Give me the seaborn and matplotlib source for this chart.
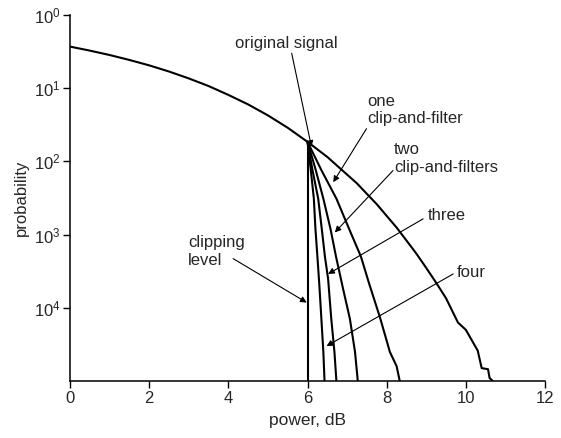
import matplotlib
matplotlib.use("Agg")
import matplotlib.pyplot as plt
import seaborn as sns
import pandas as pd

# power (dB) vs probability
orig_x = [0, 0.5, 1, 1.5, 2, 2.5, 3, 3.5, 4, 4.5, 5, 5.5, 6, 6.5, 7, 7.25, 7.5, 7.75, 8,
          8.25, 8.5, 8.75, 9, 9.25, 9.5, 9.8, 10.0, 10.3, 10.4, 10.56, 10.6, 10.68]
orig_p = [0.37, 0.326, 0.284, 0.243, 0.205, 0.169, 0.136, 0.107, 0.081, 0.06, 0.0425, 0.0288,
          0.0185, 0.0115, 0.0066, 0.0050, 0.0036, 0.0026, 0.0018, 0.00125, 8.3e-4, 5.5e-4,
          3.5e-4, 2.2e-4, 1.35e-4, 6.3e-5, 5.0e-5, 2.6e-5, 1.5e-5, 1.45e-5, 1.1e-5, 1.0e-5]

one_x = [6.0, 6.35, 6.73, 7.05, 7.35, 7.55, 7.83, 8.01, 8.08, 8.25, 8.33]
one_p = [1.85e-2, 7.6e-3, 3.1e-3, 1.2e-3, 5.0e-4, 2.2e-4, 7.4e-5, 3.4e-5, 2.5e-5, 1.6e-5, 1.0e-5]

two_x = [6.0, 6.2, 6.40, 6.58, 6.72, 6.9, 7.07, 7.2, 7.27]
two_p = [1.85e-2, 7.9e-3, 3.1e-3, 1.2e-3, 5.0e-4, 1.8e-4, 7.1e-5, 2.5e-5, 1.0e-5]

three_x = [6.0, 6.12, 6.27, 6.36, 6.44, 6.52, 6.6, 6.68, 6.73]
three_p = [1.85e-2, 7.9e-3, 3.1e-3, 1.2e-3, 5.0e-4, 2.5e-4, 7.1e-5, 2.5e-5, 1.0e-5]

four_x = [6.0, 6.08, 6.16, 6.2, 6.25, 6.3, 6.35, 6.4, 6.43]
four_p = [1.85e-2, 7.9e-3, 3.1e-3, 1.2e-3, 5.0e-4, 2.0e-4, 7.1e-5, 2.5e-5, 1.0e-5]

clip_x = [6.0, 6.0]
clip_p = [1.85e-2, 1.0e-5]

x_ticks = [0, 2, 4, 6, 8, 10, 12]
y_ticks = [1, 1e-1, 1e-2, 1e-3, 1e-4]
y_tick_labels = [r"$\mathregular{10^{0}}$", r"$\mathregular{10^{1}}$", r"$\mathregular{10^{2}}$",
                 r"$\mathregular{10^{3}}$", r"$\mathregular{10^{4}}$"]

sns.set_style("ticks")
plt.rcParams["font.family"] = ["Liberation Sans", "DejaVu Sans"]
plt.rcParams["mathtext.fontset"] = "custom"
plt.rcParams["mathtext.rm"] = "Liberation Sans"
plt.rcParams["mathtext.it"] = "Liberation Sans:italic"

fig = plt.figure(figsize=(5.61, 4.38), dpi=100)
ax = fig.add_axes([0.1248, 0.1301, 0.8467, 0.8357])

curves = {
    "original": (orig_x, orig_p),
    "one": (one_x, one_p),
    "two": (two_x, two_p),
    "three": (three_x, three_p),
    "four": (four_x, four_p),
    "clip": (clip_x, clip_p),
}
for name, (xs, ps) in curves.items():
    df = pd.DataFrame({"power": xs, "prob": ps})
    sns.lineplot(data=df, x="power", y="prob", ax=ax, color="black", lw=1.5,
                 estimator=None, sort=False)

ax.set_yscale("log")
ax.set_xlim(0, 12)
ax.set_ylim(1e-5, 1)
ax.set_xticks(x_ticks)
ax.set_xticklabels([str(t) for t in x_ticks])
ax.set_yticks(y_ticks)
ax.set_yticklabels(y_tick_labels)
ax.minorticks_off()
ax.tick_params(axis="both", direction="out", length=5, width=1.0, labelsize=12, pad=2, color="black")
ax.set_xlabel("power, dB", fontsize=12.5, labelpad=5)
ax.set_ylabel("probability", fontsize=12, labelpad=3)
sns.despine(ax=ax)
for s in ["left", "bottom"]:
    ax.spines[s].set_linewidth(1.1)
    ax.spines[s].set_color("black")

# annotations
arrow = dict(arrowstyle="-|>", color="black", lw=0.8, mutation_scale=9, shrinkA=0, shrinkB=0)
ax.annotate("", xy=(6.10, 0.0158), xytext=(5.60, 0.30), arrowprops=arrow)
ax.annotate("", xy=(6.65, 0.0052), xytext=(7.49, 0.028), arrowprops=arrow)
ax.annotate("", xy=(6.69, 0.00107), xytext=(8.16, 0.0075), arrowprops=arrow)
ax.annotate("", xy=(6.52, 2.9e-4), xytext=(8.92, 0.00164), arrowprops=arrow)
ax.annotate("", xy=(6.48, 3.0e-5), xytext=(9.68, 2.9e-4), arrowprops=arrow)
ax.annotate("", xy=(5.98, 1.18e-4), xytext=(4.12, 4.7e-4), arrowprops=arrow)

txt = dict(fontsize=12, ha="left", va="center", linespacing=1.2)
ax.text(4.17, 0.41, "original signal", **txt)
ax.text(7.5, 0.05, "one\nclip-and-filter", **txt)
ax.text(8.18, 0.011, "two\nclip-and-filters", **txt)
ax.text(9.04, 0.0018, "three", **txt)
ax.text(9.77, 3.0e-4, "four", **txt)
ax.text(2.98, 5.9e-4, "clipping\nlevel", **txt)

fig.savefig("out.png", dpi=100)
